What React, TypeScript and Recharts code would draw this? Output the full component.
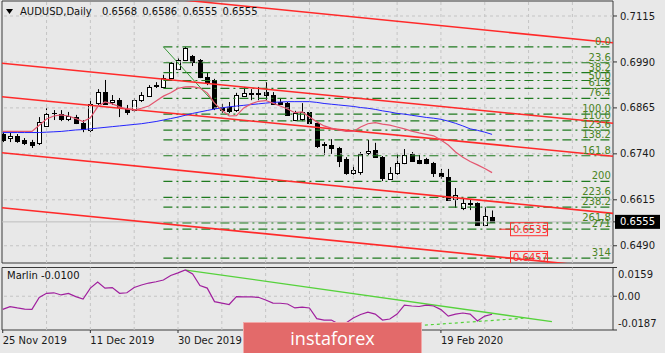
import React from 'react'
import {
  ComposedChart, Bar, Line, Scatter, XAxis, YAxis, ReferenceLine, ReferenceArea,
} from 'recharts'

const FONT = '"DejaVu Sans", sans-serif'
const BG = '#e8e8e8'

const X_MIN = -0.1
const X_MAX = 83.56
const P_MIN = 0.64431
const P_MAX = 0.71558
const M_MIN = -0.0187
const M_MAX = 0.0159

// daily bars from 25 Nov 2019, one entry per trading day
const opens = [
  0.6794, 0.6783, 0.6789, 0.6778, 0.6772, 0.6770, 0.6816, 0.6850, 0.6848, 0.6835,
  0.6840, 0.6824, 0.6805, 0.6878, 0.6908, 0.6882, 0.6886, 0.6862, 0.6859, 0.6886,
  0.6897, 0.6925, 0.6922, 0.6946, 0.6971, 0.6995, 0.7006, 0.6995, 0.6949, 0.6941,
  0.6868, 0.6868, 0.6859, 0.6897, 0.6906, 0.6906, 0.6908, 0.6900, 0.6881, 0.6878,
  0.6832, 0.6835, 0.6854, 0.6824, 0.6766, 0.6764, 0.6756, 0.6726, 0.6688, 0.6691,
  0.6742, 0.6750, 0.6731, 0.6672, 0.6688, 0.6715, 0.6740, 0.6723, 0.6726, 0.6715,
  0.6688, 0.6677, 0.6617, 0.6593, 0.6606, 0.6606, 0.6547, 0.6568,
]
const highs = [
  0.6799, 0.6797, 0.6794, 0.6783, 0.6778, 0.6840, 0.6865, 0.6859, 0.6859, 0.6854,
  0.6846, 0.6832, 0.6892, 0.6916, 0.6941, 0.6900, 0.6892, 0.6873, 0.6892, 0.6908,
  0.6927, 0.6935, 0.6955, 0.6990, 0.7001, 0.7031, 0.7009, 0.6998, 0.6960, 0.6944,
  0.6876, 0.6881, 0.6906, 0.6922, 0.6916, 0.6922, 0.6935, 0.6908, 0.6892, 0.6881,
  0.6857, 0.6878, 0.6859, 0.6827, 0.6772, 0.6780, 0.6759, 0.6731, 0.6710, 0.6745,
  0.6778, 0.6770, 0.6734, 0.6704, 0.6740, 0.6753, 0.6745, 0.6737, 0.6729, 0.6718,
  0.6699, 0.6699, 0.6647, 0.6620, 0.6615, 0.6608, 0.6595, 0.6586,
]
const lows = [
  0.6772, 0.6772, 0.6770, 0.6764, 0.6756, 0.6764, 0.6813, 0.6832, 0.6829, 0.6829,
  0.6821, 0.6799, 0.6799, 0.6873, 0.6873, 0.6873, 0.6840, 0.6846, 0.6854, 0.6881,
  0.6895, 0.6919, 0.6919, 0.6944, 0.6968, 0.6993, 0.6979, 0.6946, 0.6927, 0.6859,
  0.6851, 0.6851, 0.6854, 0.6895, 0.6886, 0.6886, 0.6886, 0.6873, 0.6873, 0.6843,
  0.6829, 0.6829, 0.6819, 0.6756, 0.6737, 0.6740, 0.6704, 0.6683, 0.6683, 0.6683,
  0.6737, 0.6731, 0.6666, 0.6669, 0.6683, 0.6712, 0.6718, 0.6712, 0.6712, 0.6677,
  0.6672, 0.6612, 0.6593, 0.6587, 0.6587, 0.6547, 0.6544, 0.6555,
]
const closes = [
  0.6778, 0.6789, 0.6775, 0.6770, 0.6764, 0.6827, 0.6848, 0.6852, 0.6835, 0.6843,
  0.6824, 0.6808, 0.6876, 0.6908, 0.6876, 0.6886, 0.6868, 0.6854, 0.6886, 0.6900,
  0.6922, 0.6927, 0.6946, 0.6987, 0.6995, 0.7028, 0.6990, 0.6949, 0.6935, 0.6865,
  0.6859, 0.6857, 0.6900, 0.6906, 0.6903, 0.6903, 0.6900, 0.6876, 0.6876, 0.6846,
  0.6851, 0.6854, 0.6824, 0.6761, 0.6764, 0.6756, 0.6721, 0.6688, 0.6696, 0.6740,
  0.6748, 0.6731, 0.6674, 0.6688, 0.6715, 0.6737, 0.6721, 0.6715, 0.6715, 0.6688,
  0.6680, 0.6615, 0.6628, 0.6606, 0.6604, 0.6547, 0.6571, 0.6555,
]
const maSlow = [
  0.6798, 0.6798, 0.6798, 0.6798, 0.6798, 0.6798, 0.6799, 0.6800, 0.6801, 0.6803,
  0.6805, 0.6806, 0.6808, 0.6810, 0.6812, 0.6814, 0.6816, 0.6818, 0.6820, 0.6822,
  0.6825, 0.6828, 0.6832, 0.6836, 0.6840, 0.6845, 0.6850, 0.6854, 0.6858, 0.6862,
  0.6865, 0.6868, 0.6870, 0.6872, 0.6874, 0.6876, 0.6878, 0.6880, 0.6881, 0.6882,
  0.6882, 0.6882, 0.6882, 0.6880, 0.6877, 0.6875, 0.6873, 0.6871, 0.6869, 0.6866,
  0.6864, 0.6861, 0.6857, 0.6854, 0.6850, 0.6848, 0.6845, 0.6842, 0.6839, 0.6837,
  0.6834, 0.6829, 0.6823, 0.6816, 0.6808, 0.6804, 0.6799, 0.6793,
]
const maFast = [
  0.6801, 0.6801, 0.6801, 0.6801, 0.6801, 0.6818, 0.6835, 0.6843, 0.6846, 0.6843,
  0.6836, 0.6828, 0.6838, 0.6868, 0.6881, 0.6876, 0.6868, 0.6862, 0.6859, 0.6864,
  0.6870, 0.6884, 0.6897, 0.6906, 0.6918, 0.6922, 0.6923, 0.6919, 0.6906, 0.6878,
  0.6859, 0.6843, 0.6844, 0.6865, 0.6876, 0.6883, 0.6885, 0.6878, 0.6870, 0.6862,
  0.6852, 0.6854, 0.6840, 0.6827, 0.6816, 0.6810, 0.6805, 0.6801, 0.6801, 0.6813,
  0.6822, 0.6825, 0.6821, 0.6818, 0.6813, 0.6808, 0.6802, 0.6797, 0.6793, 0.6789,
  0.6778, 0.6764, 0.6745, 0.6731, 0.6719, 0.6710, 0.6700, 0.6689,
]
const marlin = [
  -0.0073, -0.0058, -0.0065, -0.0071, -0.0073, -0.0007, 0.0016, 0.0019, 0.0007, 0.0016,
  -0.0002, -0.0016, 0.0045, 0.0079, 0.0045, 0.0048, 0.0016, 0.0019, 0.0048, 0.0062,
  0.0073, 0.0080, 0.0090, 0.0115, 0.0129, 0.0145, 0.0123, 0.0059, 0.0045, -0.0030,
  -0.0038, -0.0046, -0.0002, -0.0004, -0.0004, -0.0006, -0.0021, -0.0038, -0.0039, -0.0043,
  -0.0065, -0.0060, -0.0065, -0.0124, -0.0132, -0.0132, -0.0154, -0.0148, -0.0121, -0.0101,
  -0.0088, -0.0099, -0.0132, -0.0126, -0.0099, -0.0049, -0.0054, -0.0057, -0.0049, -0.0054,
  -0.0074, -0.0110, -0.0099, -0.0093, -0.0099, -0.0137, -0.0110, -0.0100,
]

const priceTicks = [0.649, 0.6555, 0.6615, 0.674, 0.6865, 0.699, 0.7115]
const gridPrices = [0.649, 0.6615, 0.674, 0.6865, 0.699, 0.7115]
const marlinTicks = [M_MIN, 0, M_MAX]
const dateTicks = [0, 12, 24, 60]
const dateLabels = ['25 Nov 2019', '11 Dec 2019', '30 Dec 2019', '19 Feb 2020']
const gridBars = [6, 12, 18, 24, 30, 36, 42, 48, 54, 60, 66, 72, 78]

const lastPrice = 0.6555

// fibonacci grid drawn from the 31 Dec high to the 8 Jan low
const fibHigh = 0.7031
const fibLow = 0.6848
const fibStart = 22
const fibLevels = [0, 23.6, 38.2, 50, 61.8, 76.4, 100, 110, 123.6, 138.2, 161.8, 200, 223.6, 238.2, 261.8, 271, 314]
const fibNames = ['0.0', '23.6', '38.2', '50.0', '61.8', '76.4', '100.0', '110.0', '123.6', '138.2', '161.8', '200', '223.6', '238.2', '261.8', '271', '314']

// red channel lines: bar, price, bar, price
const channels = [
  [20.14, 0.71675, 83.56, 0.70421],
  [-0.1, 0.69863, 83.56, 0.68231],
  [-0.1, 0.68955, 83.56, 0.67336],
  [-0.1, 0.67432, 83.56, 0.6578],
  [-0.1, 0.65936, 83.56, 0.64287],
]
const priceBoxes = [
  { i: 69.46, p: 0.6535, t: '0.6535' },
  { i: 69.46, p: 0.6457, t: '0.6457' },
]

// green lines in the Marlin window
const marlinTrend = [25.07, 0.0145, 75.2, -0.0141]
const marlinSupport = [57.8, -0.016, 71.3, -0.0122]

const bars = opens.map((o, i) => ({
  i, o, h: highs[i], l: lows[i], c: closes[i], slow: maSlow[i], fast: maFast[i],
}))
const oscRows = marlin.map((v, i) => ({ i, v }))
const fibPrice = (lvl: number) => fibHigh - (lvl / 100) * (fibHigh - fibLow)
const fibLabels = fibLevels.map((lvl, k) => ({ i: X_MAX - 0.3, p: fibPrice(lvl), t: fibNames[k] }))

function Candle(props: any) {
  const { x, y, width, height, payload } = props
  if (x == null || payload == null) return null
  const top = Math.min(y, y + height)
  const span = Math.abs(height)
  const range = payload.h - payload.l || 1e-9
  const yOf = (v: number) => top + ((payload.h - v) / range) * span
  const px = Math.round(x + width / 2)
  const up = payload.c >= payload.o
  const bTop = Math.round(yOf(Math.max(payload.o, payload.c)))
  const bBot = Math.round(yOf(Math.min(payload.o, payload.c)))
  return (
    <g>
      <line x1={px + 0.5} x2={px + 0.5} y1={top} y2={top + span} stroke="#000" />
      {bBot - bTop < 1 ? (
        <line x1={px - 2} x2={px + 3} y1={bTop + 0.5} y2={bTop + 0.5} stroke="#000" />
      ) : (
        <rect x={px - 1.5} y={bTop + 0.5} width={4} height={bBot - bTop} fill={up ? '#fff' : '#000'} stroke="#000" />
      )}
    </g>
  )
}

function PriceTick(props: any) {
  const { x, y, payload } = props
  const v = payload.value
  if (Math.abs(v - lastPrice) < 1e-7) {
    return (
      <g>
        <rect x={x - 5} y={y - 7} width={45} height={14} fill="#000" />
        <text x={x} y={y} dy="0.355em" fill="#fff" fontSize={10} fontFamily={FONT}>{v.toFixed(4)}</text>
      </g>
    )
  }
  return <text x={x} y={y} dy="0.355em" fill="#1a1a1a" fontSize={10} fontFamily={FONT}>{v.toFixed(4)}</text>
}

function MarlinTick(props: any) {
  const { x, y, payload } = props
  const v = payload.value
  const shift = v === M_MAX ? 6.5 : v === M_MIN ? -7 : 0
  const label = v === 0 ? '0.00' : v.toFixed(4)
  return <text x={x} y={y + shift} dy="0.355em" fill="#1a1a1a" fontSize={10} fontFamily={FONT}>{label}</text>
}

function DateTick(props: any) {
  const { x, y, payload } = props
  const k = dateTicks.indexOf(payload.value)
  return <text x={x} y={y} dy="0.71em" textAnchor="start" fill="#1a1a1a" fontSize={10} fontFamily={FONT}>{dateLabels[k]}</text>
}

function FibLabel(props: any) {
  const { cx, cy, payload } = props
  return <text x={cx} y={cy - 2} textAnchor="end" fill="#4a8424" fontSize={10} fontFamily={FONT}>{payload.t}</text>
}

function PriceBox(props: any) {
  const { cx, cy, payload } = props
  return (
    <g>
      <rect x={cx + 0.5} y={cy - 6.5} width={37} height={13} fill="none" stroke="#ff3030" />
      <text x={cx + 3} y={cy} dy="0.355em" fill="#ff3030" fontSize={10} fontFamily={FONT}>{payload.t}</text>
    </g>
  )
}

const grid = { stroke: '#c4c4c4', strokeDasharray: '3 3' }

export default function App() {
  return (
    <div style={{ position: 'relative', width: 665, height: 353, background: BG, overflow: 'hidden' }}>
      <style>{'body{margin:0}'}</style>
      <ComposedChart width={665} height={265} data={bars} margin={{ top: 1, right: 0, bottom: 2, left: 2 }}>
        <XAxis type="number" dataKey="i" domain={[X_MIN, X_MAX]} allowDataOverflow hide />
        <YAxis
          orientation="right" domain={[P_MIN, P_MAX]} allowDataOverflow ticks={priceTicks} interval={0}
          width={52} tickSize={4} tickMargin={3} axisLine={false} tickLine={{ stroke: '#333' }} tick={PriceTick}
        />
        {gridBars.map((b) => <ReferenceLine key={'vx' + b} x={b} {...grid} />)}
        {gridPrices.map((p) => <ReferenceLine key={'hy' + p} y={p} {...grid} />)}
        <ReferenceLine y={lastPrice} stroke="#bdbdbd" />
        {fibLevels.map((lvl) => (
          <ReferenceLine
            key={'fib' + lvl}
            segment={[{ x: fibStart, y: fibPrice(lvl) }, { x: X_MAX, y: fibPrice(lvl) }]}
            stroke="#1f7a1f" strokeWidth={1.2} strokeDasharray="9 4 2 4" ifOverflow="hidden"
          />
        ))}
        <ReferenceLine segment={[{ x: fibStart, y: fibHigh }, { x: 30, y: 0.6856 }]} stroke="#3a9a3a" ifOverflow="hidden" />
        {channels.map((c, k) => (
          <ReferenceLine
            key={'ch' + k}
            segment={[{ x: c[0], y: c[1] }, { x: c[2], y: c[3] }]}
            stroke="#ff2a2a" strokeWidth={1.6} ifOverflow="hidden"
          />
        ))}
        <ReferenceLine segment={[{ x: 68, y: 0.6535 }, { x: 69.46, y: 0.6535 }]} stroke="#ff2a2a" ifOverflow="hidden" />
        <Line dataKey="slow" stroke="#2424ff" strokeWidth={1} dot={false} isAnimationActive={false} />
        <Line dataKey="fast" stroke="#e4566f" strokeWidth={1.2} dot={false} isAnimationActive={false} />
        <Bar dataKey={(d: any) => [d.l, d.h]} barSize={5} shape={Candle} isAnimationActive={false} />
        <Scatter data={fibLabels} dataKey="p" shape={FibLabel} isAnimationActive={false} />
        <Scatter data={priceBoxes} dataKey="p" shape={PriceBox} isAnimationActive={false} />
        <ReferenceArea x1={X_MIN} x2={X_MAX} y1={P_MIN} y2={P_MAX} fill="none" stroke="#3a3a3a" ifOverflow="visible" />
      </ComposedChart>

      <ComposedChart width={665} height={88} data={oscRows} margin={{ top: 2.5, right: 0, bottom: 3, left: 2 }}>
        <XAxis
          type="number" dataKey="i" domain={[X_MIN, X_MAX]} allowDataOverflow ticks={dateTicks} interval={0}
          height={20} tickSize={3} tickMargin={4} axisLine={false} tickLine={{ stroke: '#333' }} tick={DateTick}
        />
        <YAxis
          orientation="right" domain={[M_MIN, M_MAX]} allowDataOverflow ticks={marlinTicks} interval={0}
          width={52} tickSize={4} tickMargin={1} axisLine={false} tickLine={{ stroke: '#333' }} tick={MarlinTick}
        />
        {gridBars.map((b) => <ReferenceLine key={'mvx' + b} x={b} {...grid} />)}
        <ReferenceLine y={0} {...grid} />
        <ReferenceLine
          segment={[{ x: marlinTrend[0], y: marlinTrend[1] }, { x: marlinTrend[2], y: marlinTrend[3] }]}
          stroke="#56d23c" strokeWidth={1.3} ifOverflow="hidden"
        />
        <ReferenceLine
          segment={[{ x: marlinSupport[0], y: marlinSupport[1] }, { x: marlinSupport[2], y: marlinSupport[3] }]}
          stroke="#56d23c" strokeWidth={1.2} strokeDasharray="3 3" ifOverflow="hidden"
        />
        <Line dataKey="v" stroke="#a0209e" strokeWidth={1.2} dot={false} isAnimationActive={false} />
        <ReferenceArea x1={X_MIN} x2={X_MAX} y1={M_MIN} y2={M_MAX} fill="none" stroke="#3a3a3a" ifOverflow="visible" />
      </ComposedChart>

      <svg style={{ position: 'absolute', left: 0, top: 0 }} width={20} height={20}>
        <polygon points="6,9 13,9 9.5,14" fill="#000" />
      </svg>
      <div style={{ position: 'absolute', left: 20, top: 6, font: `10px/12px ${FONT}`, color: '#111', whiteSpace: 'pre', wordSpacing: 2 }}>
        AUDUSD,Daily  0.6568 0.6586 0.6555 0.6555
      </div>
      <div style={{ position: 'absolute', left: 7, top: 269.5, font: `10px/12px ${FONT}`, color: '#111', whiteSpace: 'pre' }}>
        Marlin -0.0100
      </div>
      <div
        style={{
          position: 'absolute', left: 243, top: 322, width: 177, height: 31, background: '#e36a6a',
          border: '1px solid #f2a8a8', color: '#fff', font: '18px/31px "Open Sans", sans-serif',
          textAlign: 'center', boxSizing: 'content-box',
        }}
      >
        instaforex
      </div>
    </div>
  )
}
